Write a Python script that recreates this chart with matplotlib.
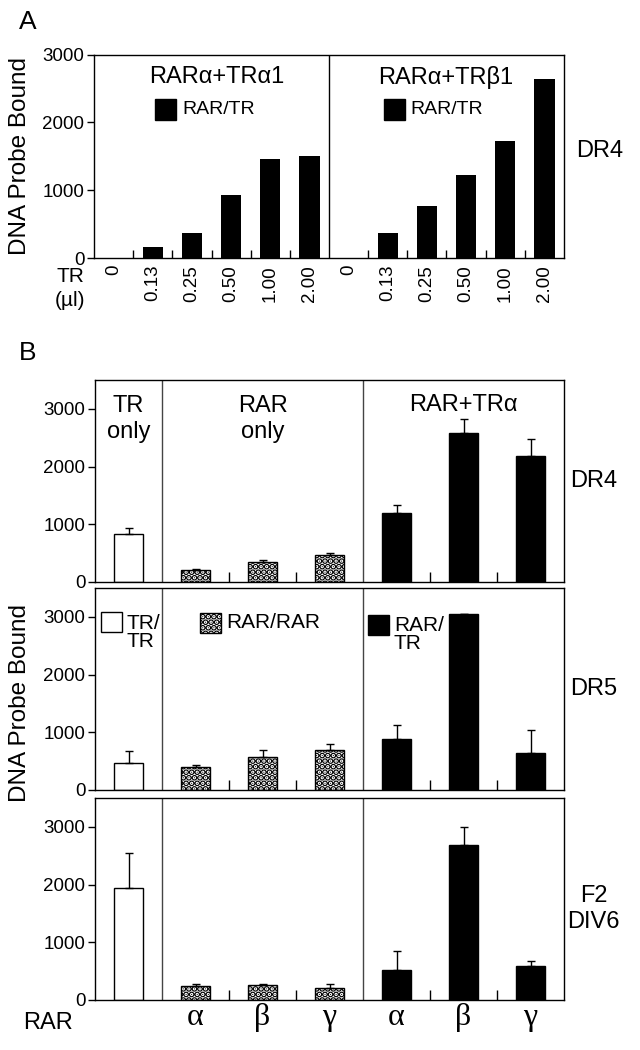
import matplotlib
matplotlib.use('Agg')
import matplotlib.pyplot as plt
from matplotlib.patches import Rectangle
import numpy as np

plt.rcParams['font.family'] = ['Liberation Sans', 'DejaVu Sans']
plt.rcParams['hatch.linewidth'] = 3.2
plt.rcParams['axes.linewidth'] = 1.0

# ---------------- Panel A data ----------------
tr_volumes = ["0", "0.13", "0.25", "0.50", "1.00", "2.00"]
tra1_bound = [0, 165, 375, 925, 1455, 1510]
trb1_bound = [0, 375, 765, 1228, 1722, 2644]
panelA_titles = ["RARα+TRα1", "RARα+TRβ1"]

# ---------------- Panel B data ----------------
group_titles = ["TR\nonly", "RAR\nonly", "RAR+TRα"]
rar_labels = ["", "α", "β", "γ", "α", "β", "γ"]
bar_types = ["TR/TR", "RAR/RAR", "RAR/RAR", "RAR/RAR", "RAR/TR", "RAR/TR", "RAR/TR"]
probes = ["DR4", "DR5", "F2\nDIV6"]
dr4_bound = [835, 205, 345, 466, 1192, 2590, 2188]
dr4_err = [103, 12, 29, 29, 138, 242, 293]
dr5_bound = [473, 404, 571, 692, 877, 3050, 646]
dr5_err = [202, 29, 116, 98, 254, 0, 392]
f2div6_bound = [1941, 236, 253, 213, 512, 2678, 582]
f2div6_err = [610, 46, 29, 69, 334, 322, 92]

W, H = 640, 1050
fig = plt.figure(figsize=(W / 100, H / 100), dpi=100)


def rect(left, top, right, bottom):
    return [left / W, 1 - bottom / H, (right - left) / W, (bottom - top) / H]


styles = {
    "TR/TR": dict(facecolor="white", hatch=None),
    "RAR/RAR": dict(facecolor="white", hatch="..."),
    "RAR/TR": dict(facecolor="black", hatch=None),
}

# ================= Panel A =================
axA = fig.add_axes(rect(94, 54.7, 564, 258))
valsA = tra1_bound + trb1_bound
xA = np.arange(len(valsA))
axA.bar(xA, valsA, width=0.52, color="black")
axA.set_xlim(-0.5, len(valsA) - 0.5)
axA.set_ylim(0, 3000)
axA.axvline(5.5, color="black", lw=1.0)
axA.set_yticks([0, 1000, 2000, 3000])
axA.tick_params(axis="y", direction="out", length=5, width=1, labelsize=13.5, pad=2)
axA.set_xticks(xA)
axA.set_xticklabels(tr_volumes + tr_volumes, rotation=90, fontsize=13.5)
axA.tick_params(axis="x", which="major", length=0, pad=5)
axA.set_xticks([b + 0.5 for b in range(11) if b != 5], minor=True)
axA.tick_params(axis="x", which="minor", direction="in", length=6, width=1)
axA.set_ylabel("DNA Probe Bound", fontsize=17.5)
axA.yaxis.set_label_coords((31 - 94) / 470, 0.5)
for cx, t in zip([0.262, 0.749], panelA_titles):
    axA.text(cx, 0.89, t, transform=axA.transAxes, ha="center", va="center", fontsize=17)
for bx in [0.130, 0.617]:
    axA.add_patch(Rectangle((bx, 0.68), 0.045, 0.10, transform=axA.transAxes,
                            facecolor="black", edgecolor="black", clip_on=False))
    axA.text(bx + 0.057, 0.73, "RAR/TR", transform=axA.transAxes, ha="left",
             va="center", fontsize=14)
fig.text(600 / W, 1 - 151 / H, "DR4", fontsize=17, ha="center", va="center")
fig.text(70 / W, 1 - 276 / H, "TR", fontsize=15, ha="center", va="center")
fig.text(70 / W, 1 - 300 / H, "(µl)", fontsize=15, ha="center", va="center")
fig.text(28 / W, 1 - 22 / H, "A", fontsize=19, ha="center", va="center")

# ================= Panel B =================
fig.text(28 / W, 1 - 353 / H, "B", fontsize=19, ha="center", va="center")
panel_pos = [(380, 582), (588, 790), (798, 1000)]
datasets = [(dr4_bound, dr4_err), (dr5_bound, dr5_err), (f2div6_bound, f2div6_err)]
xB = np.arange(len(rar_labels))
axes_B = []
for i, ((top, bot), (vals, errs), probe) in enumerate(zip(panel_pos, datasets, probes)):
    ax = fig.add_axes(rect(95, top, 564, bot))
    axes_B.append(ax)
    bars = ax.bar(xB, vals, width=0.42, edgecolor="black", linewidth=1.0)
    for b, t in zip(bars, bar_types):
        b.set_facecolor(styles[t]["facecolor"])
        if styles[t]["hatch"]:
            b.set_hatch(styles[t]["hatch"])
    ax.errorbar(xB, vals, yerr=[np.zeros(len(errs)), errs], fmt="none",
                ecolor="black", elinewidth=1.0, capsize=3, capthick=1.0, zorder=3)
    ax.set_xlim(-0.5, len(xB) - 0.5)
    ax.set_ylim(0, 3500)
    for d in [0.5, 3.5]:
        ax.axvline(d, color="#444444", lw=1.0)
    ax.set_yticks([0, 1000, 2000, 3000])
    ax.tick_params(axis="y", direction="out", length=5, width=1, labelsize=13.5, pad=2)
    ax.set_xticks([1.5, 2.5, 4.5, 5.5], minor=True)
    ax.tick_params(axis="x", which="minor", direction="in", length=7, width=1)
    ax.set_xticks(xB)
    if i == 2:
        ax.set_xticklabels(rar_labels, fontsize=23, family=["Liberation Serif", "DejaVu Serif"])
    else:
        ax.set_xticklabels([])
    ax.tick_params(axis="x", which="major", length=0, pad=2)
    ax.text(1.063, 0.5 if i < 2 else 0.45, probe, transform=ax.transAxes,
            ha="center", va="center", fontsize=17)

# group titles on top panel
axT = axes_B[0]
for cx, t in zip([0, 2, 5], group_titles):
    axT.text(cx, 0.807 if "\n" in t else 0.876, t, transform=axT.get_xaxis_transform(),
             ha="center", va="center", fontsize=17)

# legend in middle panel
axM = axes_B[1]
leg_items = [
    (0.012, 0.78, "TR/\nTR", "TR/TR", 0.78),
    (0.224, 0.777, "RAR/RAR", "RAR/RAR", 0.83),
    (0.582, 0.767, "RAR/\nTR", "RAR/TR", 0.77),
]
for bx, by, lab, t, ty in leg_items:
    st = styles[t]
    axM.add_patch(Rectangle((bx, by), 0.045, 0.10, transform=axM.transAxes,
                            facecolor=st["facecolor"], edgecolor="black",
                            hatch=st["hatch"], linewidth=1.0))
    axM.text(bx + 0.055, ty, lab, transform=axM.transAxes, ha="left", va="center",
             fontsize=15, linespacing=0.95)

axM.set_ylabel("DNA Probe Bound", fontsize=17.5)
axM.yaxis.set_label_coords((31 - 95) / 469, 0.43)

fig.text(48 / W, 1 - 1023 / H, "RAR", fontsize=17, ha="center", va="center")

fig.savefig("out.png", dpi=100)
